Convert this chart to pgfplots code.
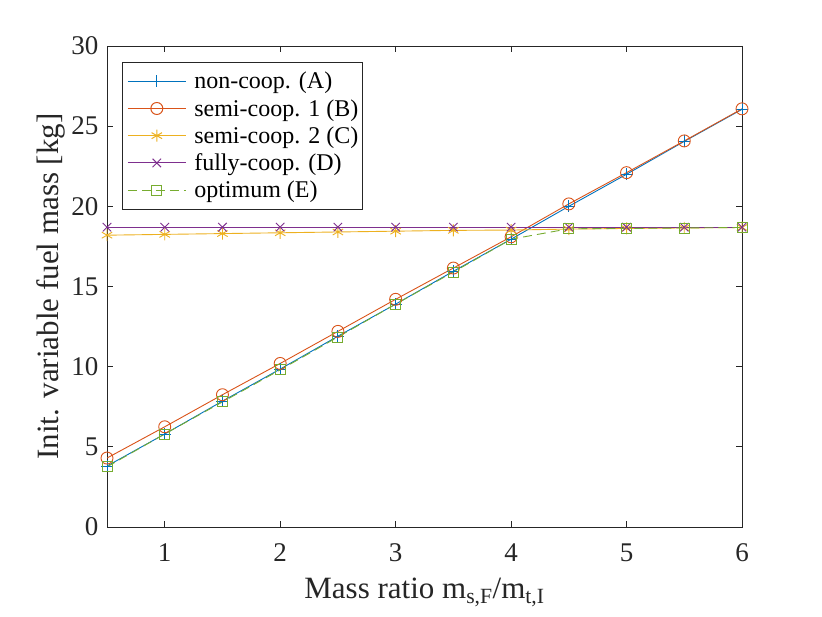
\documentclass[border=0pt]{standalone}
\usepackage{pgfplots}
\pgfplotsset{compat=1.18}
\usepackage{fontspec}
\setmainfont{Liberation Serif}
\definecolor{mblue}{rgb}{0,0.447,0.741}
\definecolor{morange}{rgb}{0.85,0.325,0.098}
\definecolor{myellow}{rgb}{0.929,0.694,0.125}
\definecolor{mpurple}{rgb}{0.494,0.184,0.556}
\definecolor{mgreen}{rgb}{0.466,0.674,0.188}
\definecolor{maxis}{rgb}{0.15,0.15,0.15}
\begin{document}
\begin{tikzpicture}
\path[use as bounding box] (0,0) rectangle (822pt,617pt);
\begin{axis}[
  scale only axis, width=635pt, height=481pt,
  at={(107pt,90pt)}, anchor=south west,
  xmin=0.5, xmax=6, ymin=0, ymax=30,
  xtick={1,2,3,4,5,6}, ytick={0,5,10,15,20,25,30},
  tick align=inside, major tick length=6pt,
  axis line style={maxis, line width=0.8pt},
  every tick/.style={maxis, line width=0.8pt},
  /pgf/number format/assume math mode=true,
  ticklabel style={font=\fontsize{27}{32}\selectfont, text=maxis},
  xlabel style={font=\fontsize{31}{36}\selectfont, text=maxis, yshift=-9pt},
  ylabel style={font=\fontsize{31}{36}\selectfont, text=maxis, yshift=-1pt},
  xlabel={Mass ratio m\textsubscript{s,F}/m\textsubscript{t,I}},
  ylabel={Init. variable fuel mass [kg]},
  xticklabel style={yshift=-13pt},
  yticklabel style={xshift=-5pt},
  legend style={at={(0.0236,0.967)}, anchor=north west, draw=maxis, line width=0.8pt,
     font=\fontsize{24}{28}\selectfont, row sep=5pt, inner xsep=2pt, inner ysep=8pt},
  legend cell align=left,
  legend image code/.code={\path (-3pt,0pt) (64pt,0pt);\draw[mark repeat=2,mark phase=2,#1,line width=1pt] plot coordinates {(0pt,0pt)(29pt,0pt)(58pt,0pt)};},
  every axis plot/.append style={line width=0.9pt},
]
\addplot[color=mblue, mark=+, mark size=6pt, mark options={solid}] coordinates {
(0.5,3.8)(1,5.8)(1.5,7.85)(2,9.85)(2.5,11.9)(3,13.9)(3.5,15.95)(4,17.95)(4.5,20.0)(5,22.0)(5.5,24.05)(6,26.05)};
\addlegendentry{non-coop. (A)}
\addplot[color=morange, mark=o, mark size=6pt, mark options={solid}] coordinates {
(0.5,4.3)(1,6.25)(1.5,8.25)(2,10.2)(2.5,12.2)(3,14.2)(3.5,16.15)(4,18.1)(4.5,20.15)(5,22.1)(5.5,24.08)(6,26.08)};
\addlegendentry{semi-coop. 1 (B)}
\addplot[color=myellow, mark=asterisk, mark size=6pt, mark options={solid}] coordinates {
(0.5,18.2)(1,18.25)(1.5,18.3)(2,18.35)(2.5,18.4)(3,18.45)(3.5,18.5)(4,18.52)(4.5,18.58)(5,18.62)(5.5,18.65)(6,18.68)};
\addlegendentry{semi-coop. 2 (C)}
\addplot[color=mpurple, mark=x, mark size=6pt, mark options={solid}] coordinates {
(0.5,18.7)(1,18.7)(1.5,18.7)(2,18.7)(2.5,18.7)(3,18.7)(3.5,18.7)(4,18.7)(4.5,18.7)(5,18.7)(5.5,18.7)(6,18.7)};
\addlegendentry{fully-coop. (D)}
\addplot[color=mgreen, dash pattern=on 9pt off 5pt, mark=square, mark size=5pt, mark options={solid}] coordinates {
(0.5,3.75)(1,5.8)(1.5,7.8)(2,9.8)(2.5,11.85)(3,13.9)(3.5,15.9)(4,17.95)(4.5,18.6)(5,18.62)(5.5,18.65)(6,18.68)};
\addlegendentry{optimum (E)}
\end{axis}
\end{tikzpicture}
\end{document}
